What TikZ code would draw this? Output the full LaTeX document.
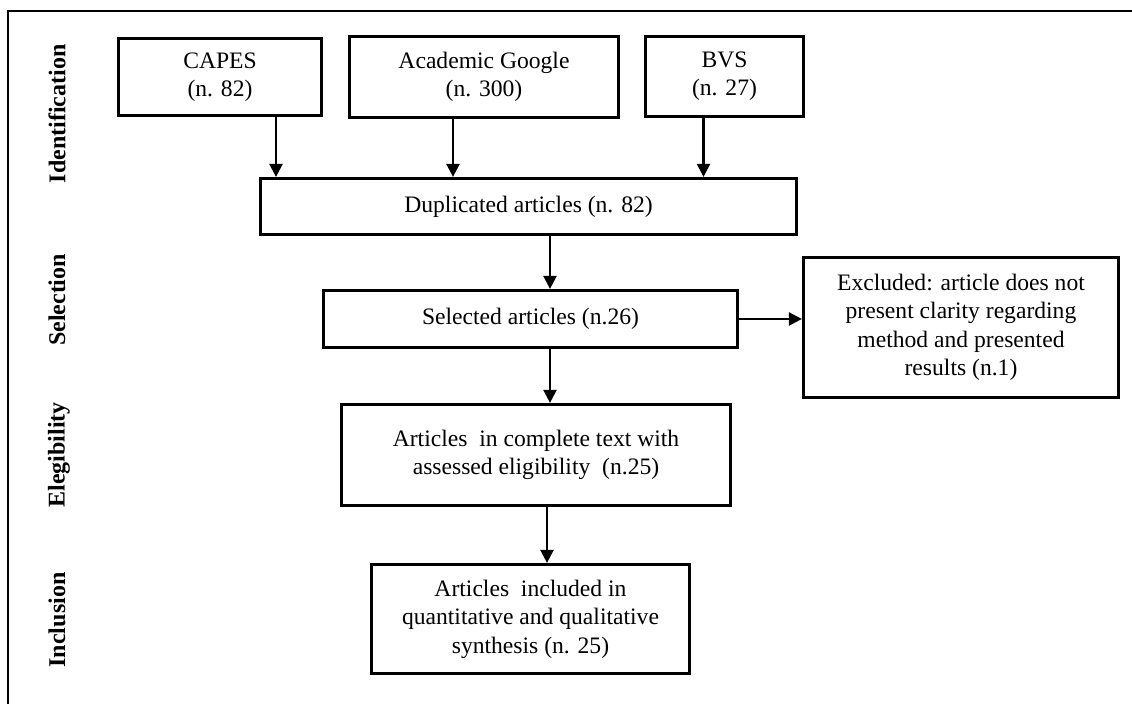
\documentclass[tikz,border=0pt]{standalone}
\usepackage{fontspec}
\setmainfont{Liberation Serif}
\usetikzlibrary{arrows.meta}

\begin{document}
\begin{tikzpicture}[
        x=0.5pt, y=-0.5pt,
        font=\fontsize{11.8}{14.2}\selectfont,
        >=Triangle,
        % Styles
        box/.style={draw=black, line width=1.6pt, fill=white, inner sep=0pt, align=center},
        stage_lbl/.style={font=\fontsize{12}{14}\selectfont\bfseries, rotate=90, inner sep=0pt},
        arrow/.style={-{Triangle[width=6.5pt, length=6.5pt]}, line width=1.2pt, draw=black},
        frame_line/.style={draw=black, line width=1pt}
    ]

    \useasboundingbox (0,0) rectangle (1132,704);

    % Outer frame (runs off the right and bottom edges)
    \draw[frame_line] (8,720) -- (8,11) -- (1150,11);

    % Stage labels (left column)
    \node[stage_lbl] (lbl_ident) at (57,114) {Identification};
    \node[stage_lbl] (lbl_sel) at (57,300) {Selection};
    \node[stage_lbl] (lbl_elig) at (59,455) {Elegibility};
    \node[stage_lbl] (lbl_incl) at (57,620) {Inclusion};

    % Sources (top row)
    \node[box, minimum width=101.5pt, minimum height=38.5pt] (capes) at (220,77) {CAPES\\(n. 82)};
    \node[box, minimum width=134.5pt, minimum height=40.5pt] (scholar) at (484,77) {Academic Google\\(n. 300)};
    \node[box, minimum width=79pt, minimum height=40pt] (bvs) at (724.5,76.5) {BVS\\(n. 27)};

    % Main flow
    \node[box, minimum width=268pt, minimum height=28pt] (dup) at (528.5,206.5) {Duplicated articles (n. 82)};
    \node[box, minimum width=207pt, minimum height=28.5pt] (sel) at (530.5,319) {Selected articles (n.26)};
    \node[box, minimum width=157.5pt, minimum height=70pt] (excl) at (961,327.5) {Excluded: article does not\\present clarity regarding\\method and presented\\results (n.1)};
    \node[box, minimum width=194.5pt, minimum height=50.5pt] (elig) at (536,455) {Articles\ \ in complete text with\\assessed eligibility\ \ (n.25)};
    \node[box, minimum width=159pt, minimum height=54.5pt] (incl) at (530.5,619) {Articles\ \ included in\\quantitative and qualitative\\synthesis (n. 25)};

    % Connectors
    \draw[arrow] ([xshift=28pt]capes.south) -- ([xshift=28pt]capes.south |- dup.north);
    \draw[arrow] ([xshift=-15.5pt]scholar.south) -- ([xshift=-15.5pt]scholar.south |- dup.north);
    \draw[arrow] ([xshift=-10.5pt]bvs.south) -- ([xshift=-10.5pt]bvs.south |- dup.north);
    \draw[arrow] ([xshift=10.75pt]dup.south) -- ([xshift=10.75pt]dup.south |- sel.north);
    \draw[arrow] (sel.east) -- (sel.east -| excl.west);
    \draw[arrow] ([xshift=9.75pt]sel.south) -- ([xshift=9.75pt]sel.south |- elig.north);
    \draw[arrow] ([xshift=5.5pt]elig.south) -- ([xshift=5.5pt]elig.south |- incl.north);

\end{tikzpicture}
\end{document}
